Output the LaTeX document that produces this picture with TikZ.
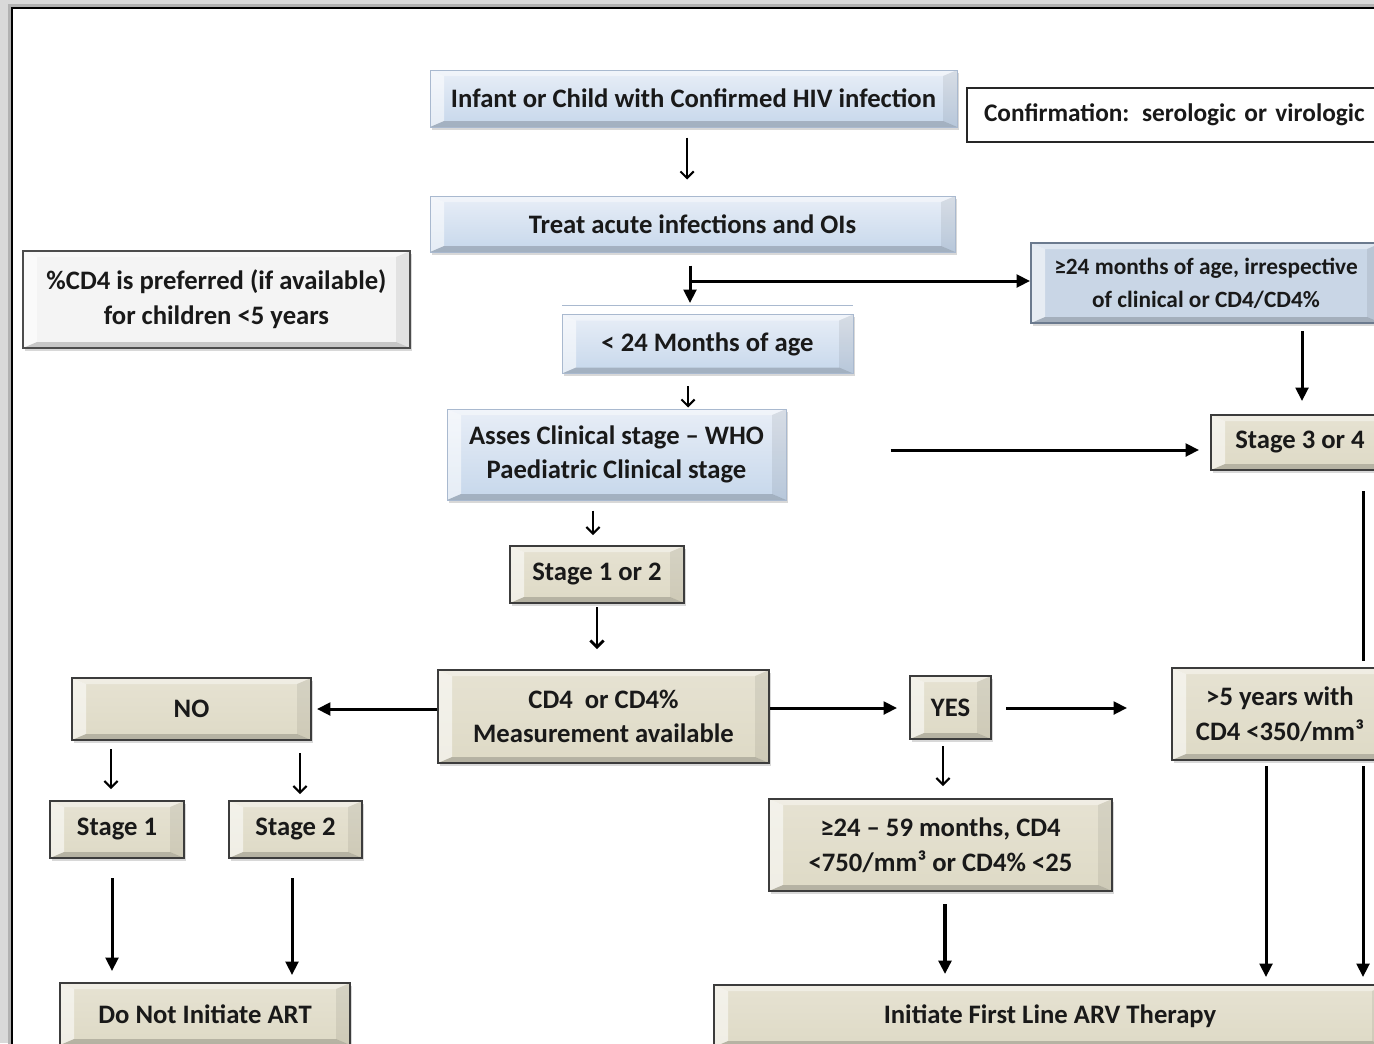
\documentclass[tikz,border=0pt]{standalone}
\usepackage{fontspec}
\setmainfont{Carlito}
\usetikzlibrary{arrows.meta,shadows}
\definecolor{bluetop}{HTML}{E8EEF7}
\definecolor{bluebot}{HTML}{C6D7EB}
\definecolor{blueedge}{HTML}{A9B9CF}
\definecolor{steel}{HTML}{C9D6E6}
\definecolor{steeledge}{HTML}{6B7A8E}
\definecolor{beige}{HTML}{DEDAC6}
\definecolor{beigetop}{HTML}{E6E2D2}
\definecolor{beigeedge}{HTML}{3C3C3C}
\definecolor{graybox}{HTML}{F4F4F4}
\definecolor{bggray}{HTML}{D9D9D9}
\tikzset{
  x=0.75pt, y=-0.75pt,
  bevelpp/.style={path picture={
    \coordinate (bsw) at (path picture bounding box.south west);
    \coordinate (bne) at (path picture bounding box.north east);
    \coordinate (bnw) at (bsw |- bne);
    \coordinate (bse) at (bne |- bsw);
    \fill[white,opacity=0.55] (bsw) -- (bnw) -- ([shift={(10.5pt,-4.5pt)}]bnw) -- ([shift={(10.5pt,4.5pt)}]bsw) -- cycle;
    \fill[white,opacity=0.4] (bnw) -- (bne) -- ([shift={(-10.5pt,-4.5pt)}]bne) -- ([shift={(10.5pt,-4.5pt)}]bnw) -- cycle;
    \fill[black,opacity=0.07] (bne) -- (bse) -- ([shift={(-10.5pt,4.5pt)}]bse) -- ([shift={(-10.5pt,-4.5pt)}]bne) -- cycle;
    \fill[black,opacity=0.18] (bse) -- (bsw) -- ([shift={(10.5pt,4.5pt)}]bsw) -- ([shift={(-10.5pt,4.5pt)}]bse) -- cycle;
  }},
  sz/.style 2 args={minimum width=#1*0.75pt, minimum height=#2*0.75pt},
  box/.style={font=\bfseries\fontsize{20}{26}\selectfont, align=center, inner sep=0pt, text=black!90,
    drop shadow={shadow xshift=1.5pt, shadow yshift=-2pt, opacity=0.3}},
  bluebox/.style={box, top color=bluetop, bottom color=bluebot, draw=blueedge, line width=0.75pt, bevelpp},
  steelbox/.style={box, fill=steel, draw=steeledge, line width=1.5pt, bevelpp},
  beigebox/.style={box, top color=beigetop, bottom color=beige, draw=beigeedge, line width=1.5pt, bevelpp},
  graybevel/.style={box, fill=graybox, draw=black!70, line width=1.5pt, bevelpp},
  plainbox/.style={font=\bfseries\fontsize{19}{24}\selectfont, inner sep=0pt, text=black!90, fill=white, draw=black!85, line width=1.5pt},
  thinarr/.style={line width=1.5pt, -{Straight Barb[length=5pt,width=10pt]}},
  thickarr/.style={line width=2.25pt, -{Triangle[length=10pt,width=9.5pt]}},
  thickline/.style={line width=2.25pt},
}
\begin{document}
\begin{tikzpicture}
\useasboundingbox (0,0) rectangle (1374,1043);
\clip (0,0) rectangle (1374,1043);
% background and frame
\fill[bggray] (0,0) rectangle (1374,1043);
\fill[black!30] (8,4) rectangle (1400,1060);
\fill[white, draw=black, line width=1.5pt] (12,8) rectangle (1400,1060);

% columns / rows used by connectors
\coordinate (x687) at (687,0);
\coordinate (x688) at (688,0);
\coordinate (x690) at (690,0);
\coordinate (x593) at (593,0);
\coordinate (x597) at (597,0);
\coordinate (x111) at (111,0);
\coordinate (x112) at (112,0);
\coordinate (x292) at (292,0);
\coordinate (x300) at (300,0);
\coordinate (x943) at (943,0);
\coordinate (x945) at (945,0);
\coordinate (x1266) at (1266,0);
\coordinate (x1302) at (1302,0);
\coordinate (x1363) at (1363,0);
\coordinate (y450) at (0,450);
\coordinate (y708) at (0,708);
\coordinate (j1) at (690,281);

% nodes
\node[bluebox, sz={527}{57}] (n1) at (693.5,98.5) {Infant or Child with Confirmed HIV infection};
\node[plainbox, anchor=west, minimum height=54*0.75pt, text width=420*0.75pt, align=left, inner xsep=17*0.75pt] (conf) at (966,115) {Confirmation: serologic or virologic};
\node[bluebox, sz={525}{56}] (n2) at (692.5,224) {Treat acute infections and OIs};
\node[graybevel, sz={387}{97}] (pref) at (216.5,299.5) {\%CD4 is preferred (if available)\\for children <5 years};
\node[steelbox, sz={350}{80}, font=\bfseries\fontsize{17.5}{25}\selectfont] (ge24) at (1206,283) {≥24 months of age, irrespective\\of clinical or CD4/CD4\%};
\draw[blueedge, line width=0.75pt] (562,305) -- (853,305);
\node[bluebox, sz={291}{59}] (lt24) at (707.5,344) {< 24 Months of age};
\node[bluebox, sz={339}{91}] (assess) at (616.5,454.5) {Asses Clinical stage – WHO\\Paediatric Clinical stage};
\node[beigebox, sz={178}{55}] (s34) at (1300,442.5) {Stage 3 or 4};
\node[beigebox, sz={174}{57}] (s12) at (597,574.5) {Stage 1 or 2};
\node[beigebox, sz={331}{93}] (cd4) at (603.5,716.5) {CD4\ \ or CD4\%\\Measurement available};
\node[beigebox, sz={239}{62}] (no) at (191.5,709) {NO};
\node[beigebox, sz={81}{63}] (yes) at (950.5,707.5) {YES};
\node[beigebox, sz={216}{92}] (gt5) at (1280,714) {>5 years with\\CD4 <350/mm³};
\node[beigebox, sz={134}{57}] (st1) at (117,829.5) {Stage 1};
\node[beigebox, sz={133}{57}] (st2) at (295.5,829.5) {Stage 2};
\node[beigebox, sz={290}{62}] (dna) at (205,1014) {Do Not Initiate ART};
\node[beigebox, sz={343}{92}] (ge2459) at (940.5,845) {≥24 – 59 months, CD4\\<750/mm³ or CD4\% <25};
\node[beigebox, sz={672}{62}] (init) at (1050,1016) {Initiate First Line ARV Therapy};

% thin arrows
\draw[thinarr, shorten <=7.5pt, shorten >=12pt] (n1.south -| x687) -- (n2.north -| x687);
\draw[thinarr, shorten <=9pt, shorten >=0.75pt] (lt24.south -| x688) -- (assess.north -| x688);
\draw[thinarr, shorten <=7.5pt, shorten >=7.5pt] (assess.south -| x593) -- (s12.north -| x593);
\draw[thinarr, line width=2pt, shorten <=2.25pt, shorten >=15pt] (s12.south -| x597) -- (cd4.north -| x597);
\draw[thinarr, shorten <=6pt, shorten >=8.25pt] (no.south -| x111) -- (st1.north -| x111);
\draw[thinarr, shorten <=9pt, shorten >=4.5pt] (no.south -| x300) -- (st2.north -| x300);
\draw[thinarr, shorten <=4.5pt, shorten >=9pt] (yes.south -| x943) -- (ge2459.north -| x943);

% thick arrows
\draw[thickarr, shorten <=9.75pt, shorten >=8.25pt] (n2.south -| x690) -- (lt24.north -| x690);
\draw[thickarr] (j1) -- (j1 -| ge24.west);
\draw[thickarr, shorten <=5.25pt, shorten >=9.75pt] (ge24.south -| x1302) -- (s34.north -| x1302);
\draw[thickarr, shorten <=78pt, shorten >=8.25pt] (assess.east |- y450) -- (s34.west |- y450);
\draw[thickarr, shorten >=3.75pt] (cd4.west |- no.east) -- (no.east);
\draw[thickarr, shorten >=9pt] (cd4.east |- y708) -- (yes.west |- y708);
\draw[thickarr, shorten <=10.5pt, shorten >=33pt] (yes.east |- y708) -- (gt5.west |- y708);
\draw[thickline, shorten <=15pt, shorten >=4.5pt] (s34.south -| x1363) -- (gt5.north -| x1363);
\draw[thickarr, shorten <=3.75pt, shorten >=5.25pt] (gt5.south -| x1266) -- (init.north -| x1266);
\draw[thickarr, shorten <=3.75pt, shorten >=5.25pt] (gt5.south -| x1363) -- (init.north -| x1363);
\draw[thickarr, shorten <=14.25pt, shorten >=8.25pt] (st1.south -| x112) -- (dna.north -| x112);
\draw[thickarr, shorten <=14.25pt, shorten >=5.25pt] (st2.south -| x292) -- (dna.north -| x292);
\draw[thickarr, line width=3pt, shorten <=9pt, shorten >=7.5pt] (ge2459.south -| x945) -- (init.north -| x945);
\end{tikzpicture}
\end{document}
